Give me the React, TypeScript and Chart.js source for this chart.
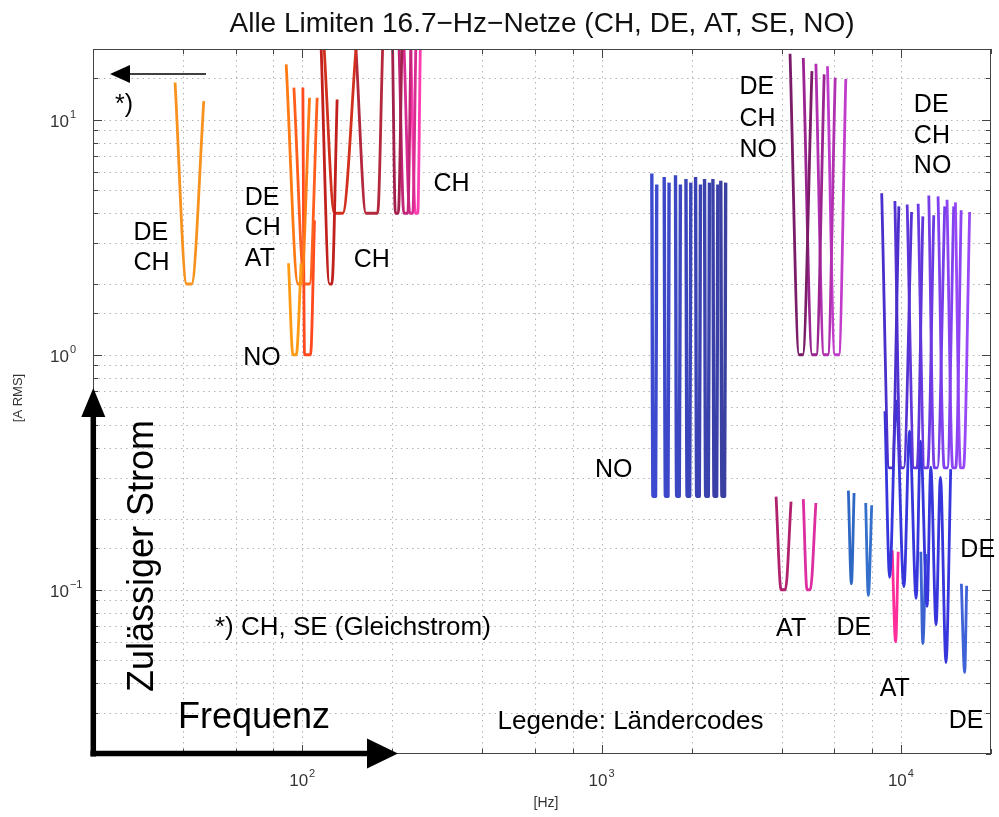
import React, { useEffect, useRef } from 'react';
import { Chart, registerables } from 'chart.js';

Chart.register(...registerables);

type Pt = [number, number]; // [frequency in Hz, permitted current in A RMS]

// ---- Limit curves per country, corner points [Hz, A RMS] ----

// DE, CH around 40 Hz
const deCh40Hz: Pt[] = [[37.6, 14.4], [41.1, 2.0], [42.7, 2.0], [46.9, 12.0]];

// DE, CH, AT around 100 Hz
const deChAt98Hz: Pt[] = [[88.4, 17.2], [96.8, 2.0], [99.2, 2.0], [105.8, 12.4]];
const deChAt104Hz: Pt[] = [[93.8, 13.7], [101.8, 2.0], [105.8, 2.0], [112.2, 12.4]];

// NO around 100 Hz
const no94Hz: Pt[] = [[90.0, 2.45], [93.1, 1.0], [95.5, 1.0], [99.2, 2.45]];
const no104Hz: Pt[] = [[100.5, 13.7], [101.8, 1.0], [106.6, 1.0], [109.9, 3.73]];

// CH 115–250 Hz
const ch124Hz: Pt[] = [[115.7, 20], [123.3, 2.0], [125.6, 2.0], [130.8, 12.2]];
const ch132Hz: Pt[] = [[118.4, 20], [128.1, 4.0], [136.6, 4.0], [151.2, 20]];
const ch171Hz: Pt[] = [[151.2, 20], [163.3, 4.0], [178.6, 4.0], [185.6, 20]];
const ch207Hz: Pt[] = [[200.4, 20], [204.7, 4.0], [209.4, 4.0], [215.2, 20]];
const ch222Hz: Pt[] = [[210.7, 20], [218.5, 4.0], [225.3, 4.0], [230.6, 20]];
const ch231Hz: Pt[] = [[219.0, 20], [228.8, 4.0], [234.1, 4.0], [239.5, 20]];
const ch241Hz: Pt[] = [[230.6, 20], [238.6, 4.0], [243.2, 4.0], [248.0, 20]];

// NO 1.5–2.55 kHz
const no1500Hz: Pt[] = [[1472, 5.9], [1485, 0.25], [1515, 0.25], [1529, 5.3]];
const no1650Hz: Pt[] = [[1619, 5.7], [1634, 0.25], [1667, 0.25], [1681, 5.4]];
const no1800Hz: Pt[] = [[1766, 5.8], [1782, 0.25], [1818, 0.25], [1834, 5.3]];
const no1950Hz: Pt[] = [[1914, 5.6], [1931, 0.25], [1970, 0.25], [1987, 5.4]];
const no2100Hz: Pt[] = [[2061, 5.7], [2079, 0.25], [2121, 0.25], [2140, 5.3]];
const no2250Hz: Pt[] = [[2208, 5.6], [2228, 0.25], [2273, 0.25], [2293, 5.4]];
const no2400Hz: Pt[] = [[2355, 5.6], [2376, 0.25], [2424, 0.25], [2446, 5.3]];
const no2550Hz: Pt[] = [[2502, 5.5], [2525, 0.25], [2576, 0.25], [2598, 5.4]];

// AT 4–5 kHz
const at4kHz: Pt[] = [[3828, 0.249], [3979, 0.1], [4112, 0.1], [4296, 0.237]];
const at5kHz: Pt[] = [[4720, 0.243], [4857, 0.1], [4981, 0.1], [5201, 0.234]];

// DE, CH, NO 4.5–6.5 kHz
const deChNo4k6: Pt[] = [[4262, 19.1], [4570, 1.0], [4700, 1.0], [5044, 16.1]];
const deChNo5k1: Pt[] = [[4720, 18.3], [5054, 1.0], [5216, 1.0], [5542, 15.6]];
const deChNo5k6: Pt[] = [[5201, 17.3], [5532, 1.0], [5703, 1.0], [6033, 15.1]];
const deChNo6k1: Pt[] = [[5685, 16.9], [6019, 1.0], [6205, 1.0], [6546, 14.9]];

// DE 7–8 kHz
const de6k8: Pt[] = [[6677, 0.264], [6833, 0.106], [6976, 0.258]];
const de7k8: Pt[] = [[7629, 0.234], [7783, 0.0946], [7989, 0.229]];

// DE, CH, NO 8.6–17 kHz
const deChNo9k2: Pt[] = [[8627, 4.87], [9136, 0.33], [9349, 0.33], [9847, 4.28]];
const deChNo10k1: Pt[] = [[9550, 4.51], [9984, 0.33], [10217, 0.33], [10855, 4.05]];
const deChNo11k2: Pt[] = [[10495, 4.36], [11064, 0.33], [11322, 0.33], [11838, 3.88]];
const deChNo12k1: Pt[] = [[11419, 4.39], [12001, 0.33], [12281, 0.33], [12877, 3.92]];
const deChNo13k1: Pt[] = [[12394, 4.76], [12930, 0.33], [13232, 0.33], [14010, 4.28]];
const deChNo14k1: Pt[] = [[13310, 4.72], [13958, 0.33], [14284, 0.33], [15010, 4.28]];
const deChNo15k1: Pt[] = [[14260, 4.57], [14897, 0.33], [15245, 0.33], [15900, 4.12]];
const deChNo16k0: Pt[] = [[15210, 4.45], [15817, 0.33], [16186, 0.33], [16970, 4.05]];

// DE 9–15 kHz comb
const deComb9to15k: Pt[] = [
  [8847, 0.575], [9172, 0.113], [9647, 0.634], [10233, 0.103], [10690, 0.473],
  [11244, 0.092], [11630, 0.429], [12233, 0.085], [12585, 0.332], [13107, 0.071],
  [13556, 0.301], [14149, 0.049], [14670, 0.326],
];
const de11k8: Pt[] = [[11657, 0.145], [11836, 0.059], [12112, 0.142]];
const de16k3: Pt[] = [[15922, 0.106], [16331, 0.0445], [16583, 0.104]];

// AT around 9.6 kHz
const at9k6: Pt[] = [[9355, 0.147], [9603, 0.060], [9795, 0.145]];

// Axis ranges
const freqRange: [number, number] = [20, 20000];
const ampRange: [number, number] = [0.02, 20];

// Country code notes, anchored at [Hz, A RMS] (left edge, text middle)
const notes: [string, number, number][] = [
  ['*)', 23.7, 11.8],
  ['DE', 27.3, 3.35], ['CH', 27.3, 2.5],
  ['DE', 64.3, 4.76], ['CH', 64.3, 3.52], ['AT', 64.3, 2.6],
  ['NO', 63.5, 0.99],
  ['CH', 148.6, 2.58],
  ['CH', 274.4, 5.46],
  ['NO', 951, 0.329],
  ['DE', 2891, 14.07], ['CH', 2891, 10.3], ['NO', 2891, 7.57],
  ['DE', 11049, 11.8], ['CH', 11049, 8.72], ['NO', 11049, 6.45],
  ['DE', 15801, 0.1507],
  ['AT', 3828, 0.0697],
  ['DE', 6092, 0.0704],
  ['AT', 8496, 0.0384],
  ['DE', 14446, 0.0281],
];
const footNotes: [string, number, number][] = [
  ['*) CH, SE (Gleichstrom)', 51.1, 0.0704],
  ['Legende: Ländercodes', 449, 0.0279],
];

const curves: [Pt[], string][] = [
  [deCh40Hz, '#f7921e'],
  [no94Hz, '#ff9a14'],
  [deChAt98Hz, '#ff7a14'],
  [deChAt104Hz, '#ff5e1c'],
  [no104Hz, '#ff4a1e'],
  [ch124Hz, '#c2201c'],
  [ch132Hz, '#d2301e'],
  [ch171Hz, '#b3283c'],
  [ch207Hz, '#a4204c'],
  [ch222Hz, '#c22478'],
  [ch231Hz, '#d92c92'],
  [ch241Hz, '#ff3cb0'],
  [no1500Hz, '#3c4ad0'],
  [no1650Hz, '#3c48c8'],
  [no1800Hz, '#3c47c2'],
  [no1950Hz, '#3b45bb'],
  [no2100Hz, '#3b43b4'],
  [no2250Hz, '#3a42ae'],
  [no2400Hz, '#3a40a8'],
  [no2550Hz, '#3a3fa2'],
  [at4kHz, '#b0226e'],
  [at5kHz, '#dd2ea0'],
  [deChNo4k6, '#7a1c68'],
  [deChNo5k1, '#9a2490'],
  [deChNo5k6, '#b030b0'],
  [deChNo6k1, '#c23ccc'],
  [de6k8, '#2f68c4'],
  [de7k8, '#3470cc'],
  [deChNo9k2, '#4b2fcb'],
  [deChNo10k1, '#5532d2'],
  [deChNo11k2, '#6036da'],
  [deChNo12k1, '#6b3ae2'],
  [deChNo13k1, '#763de8'],
  [deChNo14k1, '#8141ee'],
  [deChNo15k1, '#8c44f2'],
  [deChNo16k0, '#9848f6'],
  [deComb9to15k, '#3636dc'],
  [de11k8, '#3b62d0'],
  [de16k3, '#3f62d8'],
  [at9k6, '#ff2d9a'],
];

// the NO 1.5–2.55 kHz notches are drawn a little heavier
const heavyCurves = new Set<Pt[]>([no1500Hz, no1650Hz, no1800Hz, no1950Hz, no2100Hz, no2250Hz, no2400Hz, no2550Hz]);

const FONT = '"Liberation Sans", Arial, Helvetica, sans-serif';

function tickValues(scale: any): number[] {
  const vals = (scale.ticks || []).map((t: any) => t.value);
  if (vals.length) return vals;
  const out: number[] = [];
  for (let e = Math.floor(Math.log10(scale.min)); e <= Math.ceil(Math.log10(scale.max)); e++) {
    for (let k = 1; k < 10; k++) {
      const v = k * Math.pow(10, e);
      if (v >= scale.min * 0.999 && v <= scale.max * 1.001) out.push(v);
    }
  }
  return out;
}

const isDecade = (v: number) => Math.abs(Math.log10(v) - Math.round(Math.log10(v))) < 1e-6;

function arrow(ctx: CanvasRenderingContext2D, x0: number, y0: number, x1: number, y1: number,
  shaft: number, headLen: number, headHalf: number) {
  const ang = Math.atan2(y1 - y0, x1 - x0);
  const c = Math.cos(ang), s = Math.sin(ang);
  const bx = x1 - headLen * c, by = y1 - headLen * s;
  ctx.lineWidth = shaft;
  ctx.lineCap = 'butt';
  ctx.beginPath();
  ctx.moveTo(x0, y0);
  ctx.lineTo(bx + c, by + s);
  ctx.stroke();
  ctx.beginPath();
  ctx.moveTo(x1, y1);
  ctx.lineTo(bx + headHalf * s, by - headHalf * c);
  ctx.lineTo(bx - headHalf * s, by + headHalf * c);
  ctx.closePath();
  ctx.fill();
}

const decorations = {
  id: 'decorations',
  beforeDraw(chart: any) {
    const { ctx, width, height } = chart;
    ctx.save();
    ctx.fillStyle = '#ffffff';
    ctx.fillRect(0, 0, width, height);
    ctx.restore();
  },
  beforeDatasetsDraw(chart: any) {
    const { ctx, chartArea: a } = chart;
    const xs = chart.scales.x, ys = chart.scales.y;
    ctx.save();
    ctx.strokeStyle = '#b4b4b4';
    ctx.lineWidth = 1;
    ctx.setLineDash([1.5, 4]);
    for (const v of tickValues(xs)) {
      const px = Math.round(xs.getPixelForValue(v)) + 0.5;
      if (px <= a.left + 1 || px >= a.right - 1) continue;
      ctx.beginPath(); ctx.moveTo(px, a.top); ctx.lineTo(px, a.bottom); ctx.stroke();
    }
    for (const v of tickValues(ys)) {
      const py = Math.round(ys.getPixelForValue(v)) + 0.5;
      if (py <= a.top + 1 || py >= a.bottom - 1) continue;
      ctx.beginPath(); ctx.moveTo(a.left, py); ctx.lineTo(a.right, py); ctx.stroke();
    }
    ctx.restore();
  },
  afterDatasetsDraw(chart: any) {
    const { ctx, chartArea: a } = chart;
    const xs = chart.scales.x, ys = chart.scales.y;
    ctx.save();

    // frame and inward tick marks
    ctx.strokeStyle = '#444';
    ctx.lineWidth = 1;
    ctx.strokeRect(a.left + 0.5, a.top + 0.5, a.right - a.left - 1, a.bottom - a.top - 1);
    ctx.beginPath();
    for (const v of tickValues(xs)) {
      const px = Math.round(xs.getPixelForValue(v)) + 0.5;
      const len = isDecade(v) ? 9 : 5;
      ctx.moveTo(px, a.bottom); ctx.lineTo(px, a.bottom - len);
      ctx.moveTo(px, a.top); ctx.lineTo(px, a.top + len);
    }
    for (const v of tickValues(ys)) {
      const py = Math.round(ys.getPixelForValue(v)) + 0.5;
      const len = isDecade(v) ? 9 : 5;
      ctx.moveTo(a.left, py); ctx.lineTo(a.left + len, py);
      ctx.moveTo(a.right, py); ctx.lineTo(a.right - len, py);
    }
    ctx.stroke();

    // decade labels 10^n
    ctx.fillStyle = '#333';
    ctx.textAlign = 'left';
    ctx.textBaseline = 'alphabetic';
    const expText = (v: number) => {
      const e = Math.round(Math.log10(v));
      return e < 0 ? '\u2212' + Math.abs(e) : String(e);
    };
    for (const v of tickValues(ys).filter(isDecade)) {
      const py = ys.getPixelForValue(v);
      ctx.font = `17px ${FONT}`;
      const w = ctx.measureText('10').width;
      ctx.fillText('10', a.left - 43, py + 7);
      ctx.font = `11px ${FONT}`;
      ctx.fillText(expText(v), a.left - 43 + w + 1, py - 2);
    }
    for (const v of tickValues(xs).filter(isDecade)) {
      const px = xs.getPixelForValue(v);
      ctx.font = `17px ${FONT}`;
      const w1 = ctx.measureText('10').width;
      ctx.font = `11px ${FONT}`;
      const w2 = ctx.measureText(expText(v)).width;
      const start = px - (w1 + 1 + w2) / 2;
      ctx.font = `17px ${FONT}`;
      ctx.fillText('10', start, a.bottom + 32);
      ctx.font = `11px ${FONT}`;
      ctx.fillText(expText(v), start + w1 + 1, a.bottom + 23);
    }

    // axis titles
    ctx.fillStyle = '#333';
    ctx.textAlign = 'center';
    ctx.textBaseline = 'middle';
    ctx.font = `14px ${FONT}`;
    ctx.fillText('[Hz]', (a.left + a.right) / 2 + 4, a.bottom + 49);
    ctx.save();
    ctx.translate(18, 398);
    ctx.rotate(-Math.PI / 2);
    ctx.font = `13px ${FONT}`;
    ctx.fillText('[A RMS]', 0, 0);
    ctx.restore();

    // title
    ctx.fillStyle = '#111';
    ctx.textBaseline = 'alphabetic';
    ctx.font = `28px ${FONT}`;
    ctx.fillText('Alle Limiten 16.7\u2212Hz\u2212Netze (CH, DE, AT, SE, NO)', (a.left + a.right) / 2, 32);

    // country codes
    ctx.fillStyle = '#000';
    ctx.textAlign = 'left';
    ctx.font = `25px ${FONT}`;
    for (const [t, hz, amp] of notes) {
      ctx.fillText(t, xs.getPixelForValue(hz), ys.getPixelForValue(amp) + 9);
    }
    ctx.font = `26px ${FONT}`;
    for (const [t, hz, amp] of footNotes) {
      ctx.fillText(t, xs.getPixelForValue(hz), ys.getPixelForValue(amp) + 9);
    }

    // small DC arrow
    ctx.strokeStyle = '#000';
    ctx.fillStyle = '#000';
    arrow(ctx, a.left + 113, a.top + 25, a.left + 17, a.top + 25, 1.6, 20, 9);

    // big axis arrows with captions
    arrow(ctx, a.left + 0.3, a.bottom + 2.5, a.left + 0.3, a.top + 339, 5.5, 29, 12);
    arrow(ctx, a.left - 2.5, a.bottom - 0.5, a.left + 305, a.bottom - 0.5, 5.5, 31, 15);
    ctx.font = `36px ${FONT}`;
    ctx.fillText('Frequenz', a.left + 85, a.bottom - 26);
    ctx.save();
    ctx.translate(a.left + 60, a.bottom - 62);
    ctx.rotate(-Math.PI / 2);
    ctx.fillText('Zulässiger Strom', 0, 0);
    ctx.restore();

    ctx.restore();
  },
};

export default function App() {
  const ref = useRef<HTMLCanvasElement>(null);

  useEffect(() => {
    const canvas = ref.current;
    if (!canvas) return;
    const chart = new Chart(canvas, {
      type: 'line',
      data: {
        datasets: curves.map(([pts, color]) => ({
          data: pts.map(([x, y]) => ({ x, y })),
          borderColor: color,
          backgroundColor: color,
          borderWidth: heavyCurves.has(pts) ? 3.4 : 2.8,
          pointRadius: 0,
          cubicInterpolationMode: 'monotone' as const,
          tension: 0.4,
          fill: false,
          borderJoinStyle: 'round' as const,
          borderCapStyle: 'butt' as const,
        })),
      },
      options: {
        responsive: false,
        animation: false,
        devicePixelRatio: 1,
        events: [],
        layout: { padding: { left: 93, right: 8, top: 49, bottom: 63 } },
        plugins: {
          legend: { display: false },
          tooltip: { enabled: false },
          title: { display: false },
        },
        scales: {
          x: { type: 'logarithmic', min: freqRange[0], max: freqRange[1], display: false },
          y: { type: 'logarithmic', min: ampRange[0], max: ampRange[1], display: false },
        },
      },
      plugins: [decorations],
    });
    return () => chart.destroy();
  }, []);

  return (
    <div style={{ position: 'absolute', left: 0, top: 0, width: 999, height: 817, background: '#fff' }}>
      <canvas ref={ref} width={999} height={817} style={{ width: 999, height: 817, display: 'block' }} />
    </div>
  );
}
